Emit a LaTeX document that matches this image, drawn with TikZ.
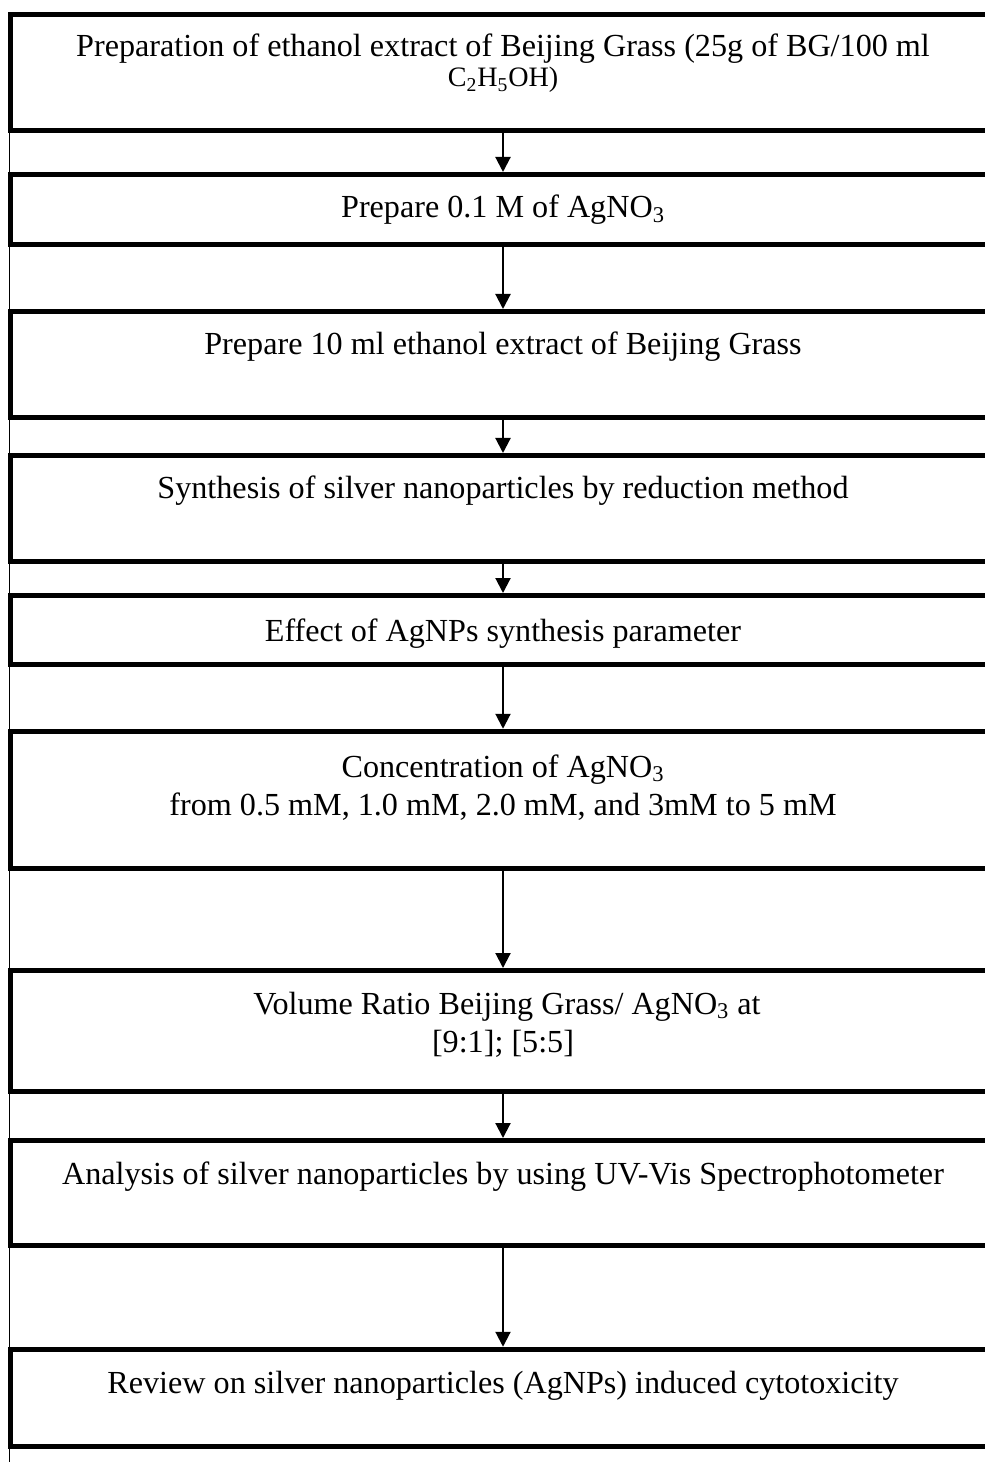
\documentclass[tikz,border=0pt]{standalone}
\usepackage{fontspec}
\setmainfont{Liberation Serif}
\usetikzlibrary{arrows.meta}

\begin{document}
\begin{tikzpicture}[x=0.02cm,y=-0.02cm,>={Triangle[width=0.3cm,length=0.3cm]},line join=miter,
  stepbox/.style={draw,line width=2.85pt,minimum width=19.7cm,inner sep=0pt},
  steptext/.style={anchor=base,inner sep=0pt,font=\fontsize{18.3}{22}\selectfont},
  flow/.style={->,line width=1.2pt}]
  \useasboundingbox (0,0) rectangle (984,1462);

  % boxes (centre y / height in pixels from the top)
  \foreach \n/\c/\h in {1/72.5/116,2/209.5/70,3/364.5/106,4/508.5/106,5/630/69,
                        6/800/137.5,7/1031/121,8/1193/105,9/1398/97.5} {
    \node[stepbox,minimum height=\h*0.02cm] (b\n) at (503,\c) {};
  }

  \coordinate (foot) at (9.5,1462);
  \draw[line width=0.8pt] (b1.south west -| foot) -- (foot);

  \node[steptext] (t1) at (503,57) {Preparation of ethanol extract of Beijing Grass (25g of BG/100 ml};
  \node[steptext,font=\fontsize{16}{19}\selectfont] (t1b) at (503,87) {C\textsubscript{2}H\textsubscript{5}OH)};
  \node[steptext] (t2) at (503,218) {Prepare 0.1 M of AgNO\textsubscript{3}};
  \node[steptext] (t3) at (503,355) {Prepare 10 ml ethanol extract of Beijing Grass};
  \node[steptext] (t4) at (503,499) {Synthesis of silver nanoparticles by reduction method};
  \node[steptext] (t5) at (503,641) {Effect of AgNPs synthesis parameter};
  \node[steptext] (t6) at (503,777) {Concentration of AgNO\textsubscript{3}};
  \node[steptext] (t6b) at (503,815) {from 0.5 mM, 1.0 mM, 2.0 mM, and 3mM to 5 mM};
  \node[steptext] (t7) at (507,1014) {Volume Ratio Beijing Grass/ AgNO\textsubscript{3} at};
  \node[steptext] (t7b) at (503,1052) {[9:1]; [5:5]};
  \node[steptext] (t8) at (503,1184) {Analysis of silver nanoparticles by using UV-Vis Spectrophotometer};
  \node[steptext] (t9) at (503,1393) {Review on silver nanoparticles (AgNPs) induced cytotoxicity};

  \foreach \a/\b in {1/2,2/3,3/4,4/5,5/6,6/7,7/8,8/9} {
    \draw[flow] (b\a) -- (b\b);
  }
\end{tikzpicture}
\end{document}
